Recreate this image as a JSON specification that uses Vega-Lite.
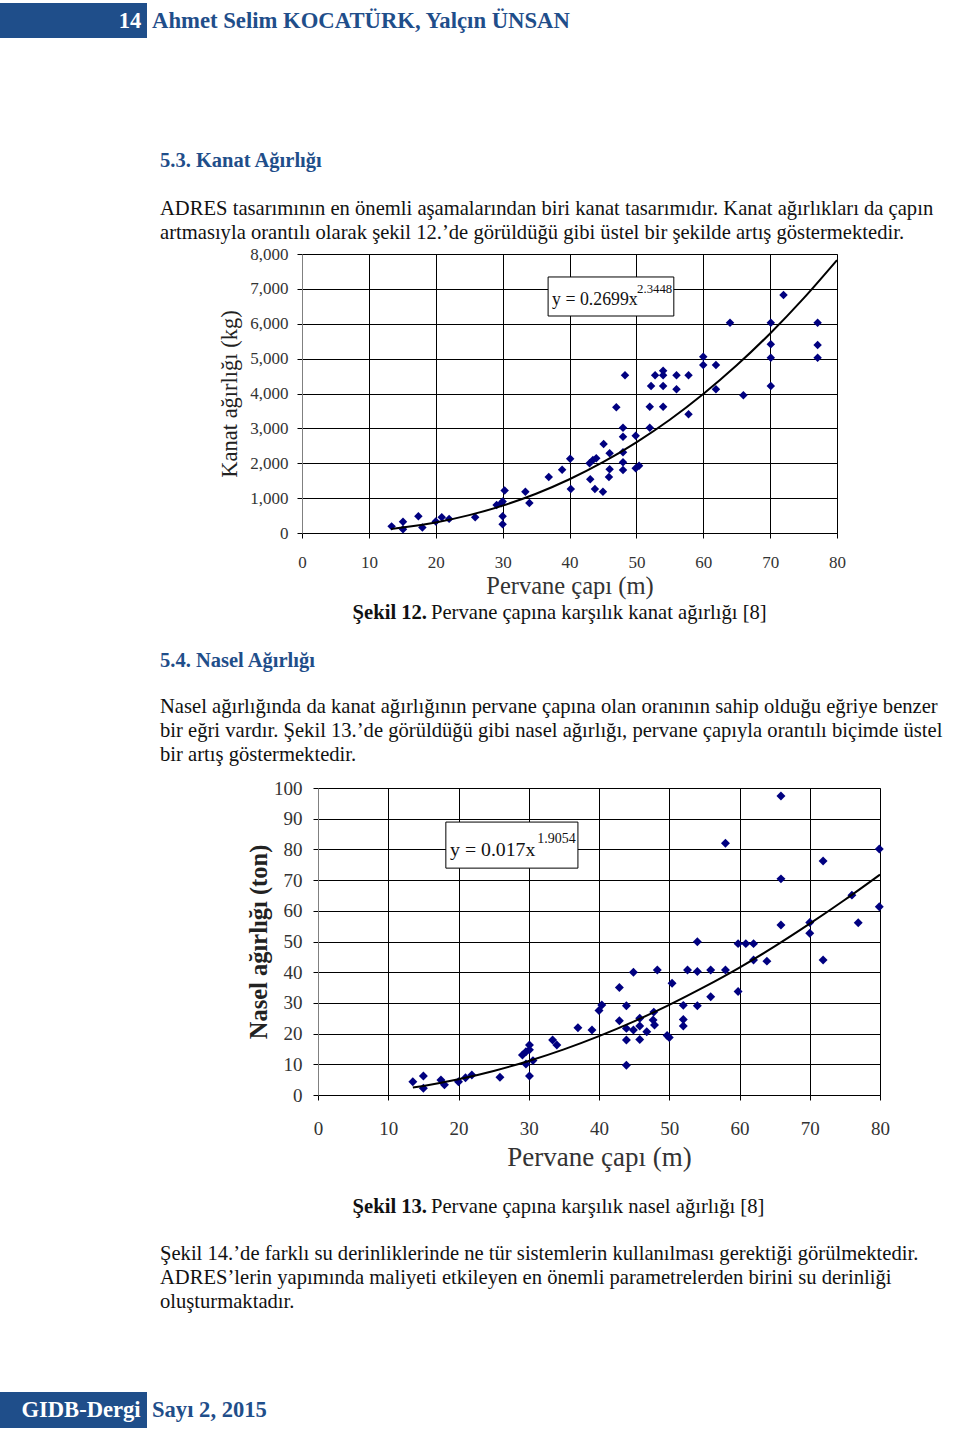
{
  "$schema": "https://vega.github.io/schema/vega-lite/v6.json",
  "padding": 0,
  "background": "white",
  "bounds": "flush",
  "spacing": 0,
  "config": {"view": {"stroke": null}},
  "datasets": {
    "kanat": [
      {"diameter": 13.4, "weight": 190}, {"diameter": 15.1, "weight": 320}, {"diameter": 15.1, "weight": 110}, {"diameter": 17.4, "weight": 480},
      {"diameter": 18.0, "weight": 160}, {"diameter": 20.0, "weight": 330}, {"diameter": 20.9, "weight": 450}, {"diameter": 22.0, "weight": 405},
      {"diameter": 25.9, "weight": 450}, {"diameter": 29.1, "weight": 800}, {"diameter": 29.8, "weight": 850}, {"diameter": 30.0, "weight": 900},
      {"diameter": 30.3, "weight": 1220}, {"diameter": 30.0, "weight": 480}, {"diameter": 30.0, "weight": 250}, {"diameter": 33.4, "weight": 1185},
      {"diameter": 34.0, "weight": 860}, {"diameter": 36.9, "weight": 1606}, {"diameter": 38.9, "weight": 1816}, {"diameter": 40.1, "weight": 2131},
      {"diameter": 40.2, "weight": 1262}, {"diameter": 43.0, "weight": 1998}, {"diameter": 43.5, "weight": 2093}, {"diameter": 44.0, "weight": 2141},
      {"diameter": 43.1, "weight": 1539}, {"diameter": 43.8, "weight": 1262}, {"diameter": 45.0, "weight": 1185}, {"diameter": 45.1, "weight": 2552},
      {"diameter": 46.0, "weight": 2285}, {"diameter": 46.0, "weight": 1826}, {"diameter": 45.9, "weight": 1606}, {"diameter": 47.0, "weight": 3604},
      {"diameter": 48.0, "weight": 3020}, {"diameter": 48.0, "weight": 2762}, {"diameter": 48.0, "weight": 2313}, {"diameter": 48.0, "weight": 2027},
      {"diameter": 48.0, "weight": 1806}, {"diameter": 48.3, "weight": 4521}, {"diameter": 49.9, "weight": 2790}, {"diameter": 49.9, "weight": 1855},
      {"diameter": 50.4, "weight": 1930}, {"diameter": 52.0, "weight": 3020}, {"diameter": 52.0, "weight": 3622}, {"diameter": 52.2, "weight": 4215},
      {"diameter": 52.8, "weight": 4521}, {"diameter": 54.0, "weight": 4654}, {"diameter": 54.0, "weight": 4521}, {"diameter": 54.0, "weight": 4215},
      {"diameter": 54.0, "weight": 3622}, {"diameter": 56.0, "weight": 4521}, {"diameter": 56.0, "weight": 4120}, {"diameter": 57.8, "weight": 4521},
      {"diameter": 57.8, "weight": 3403}, {"diameter": 60.0, "weight": 5056}, {"diameter": 60.0, "weight": 4817}, {"diameter": 61.9, "weight": 4817},
      {"diameter": 61.9, "weight": 4120}, {"diameter": 64.0, "weight": 6030}, {"diameter": 66.0, "weight": 3948}, {"diameter": 70.1, "weight": 6030},
      {"diameter": 70.1, "weight": 5410}, {"diameter": 70.1, "weight": 5027}, {"diameter": 70.1, "weight": 4215}, {"diameter": 72.0, "weight": 6824},
      {"diameter": 77.1, "weight": 6030}, {"diameter": 77.1, "weight": 5390}, {"diameter": 77.1, "weight": 5027}
    ],
    "kanatTrend": [
      {"diameter": 13.3, "weight": 117}, {"diameter": 15, "weight": 155}, {"diameter": 20, "weight": 303}, {"diameter": 25, "weight": 512},
      {"diameter": 30, "weight": 784}, {"diameter": 35, "weight": 1125}, {"diameter": 40, "weight": 1541}, {"diameter": 45, "weight": 2029},
      {"diameter": 50, "weight": 2599}, {"diameter": 55, "weight": 3247}, {"diameter": 60, "weight": 3985}, {"diameter": 65, "weight": 4808},
      {"diameter": 70, "weight": 5722}, {"diameter": 75, "weight": 6729}, {"diameter": 80, "weight": 7827}
    ],
    "kanatEq": [{"eq": "y = 0.2699x", "exp": "2.3448"}],
    "nasel": [
      {"diameter": 13.5, "mass": 4.3}, {"diameter": 15.0, "mass": 6.2}, {"diameter": 15.0, "mass": 2.2}, {"diameter": 17.5, "mass": 4.9},
      {"diameter": 18.0, "mass": 3.3}, {"diameter": 20.0, "mass": 4.3}, {"diameter": 21.0, "mass": 5.6}, {"diameter": 21.9, "mass": 6.5},
      {"diameter": 25.9, "mass": 5.8}, {"diameter": 29.1, "mass": 13.0}, {"diameter": 29.6, "mass": 14.1}, {"diameter": 30.1, "mass": 16.3},
      {"diameter": 30.1, "mass": 14.7}, {"diameter": 29.6, "mass": 10.1}, {"diameter": 30.6, "mass": 11.2}, {"diameter": 30.1, "mass": 6.2},
      {"diameter": 33.4, "mass": 17.9}, {"diameter": 34.0, "mass": 16.3}, {"diameter": 37.0, "mass": 21.9}, {"diameter": 39.0, "mass": 21.2},
      {"diameter": 40.0, "mass": 27.5}, {"diameter": 40.4, "mass": 29.3}, {"diameter": 42.9, "mass": 35.0}, {"diameter": 43.9, "mass": 29.1},
      {"diameter": 44.9, "mass": 40.0}, {"diameter": 42.9, "mass": 24.2}, {"diameter": 43.9, "mass": 21.7}, {"diameter": 43.9, "mass": 17.9},
      {"diameter": 43.9, "mass": 9.7}, {"diameter": 44.9, "mass": 21.2}, {"diameter": 45.8, "mass": 25.0}, {"diameter": 45.8, "mass": 22.5},
      {"diameter": 45.8, "mass": 18.1}, {"diameter": 46.8, "mass": 20.6}, {"diameter": 47.8, "mass": 27.0}, {"diameter": 47.7, "mass": 24.4},
      {"diameter": 47.9, "mass": 22.8}, {"diameter": 48.3, "mass": 40.7}, {"diameter": 50.0, "mass": 18.7}, {"diameter": 49.7, "mass": 19.4},
      {"diameter": 50.4, "mass": 36.4}, {"diameter": 52.0, "mass": 29.2}, {"diameter": 52.0, "mass": 24.6}, {"diameter": 52.0, "mass": 22.5},
      {"diameter": 52.6, "mass": 40.7}, {"diameter": 54.0, "mass": 40.2}, {"diameter": 54.0, "mass": 29.1}, {"diameter": 54.0, "mass": 49.9},
      {"diameter": 55.9, "mass": 40.7}, {"diameter": 55.9, "mass": 32.0}, {"diameter": 58.0, "mass": 40.7}, {"diameter": 59.8, "mass": 33.7},
      {"diameter": 59.8, "mass": 49.3}, {"diameter": 60.9, "mass": 49.3}, {"diameter": 62.0, "mass": 49.3}, {"diameter": 62.0, "mass": 44.0},
      {"diameter": 63.9, "mass": 43.6}, {"diameter": 71.9, "mass": 44.0}, {"diameter": 65.9, "mass": 97.4}, {"diameter": 58.0, "mass": 82.0},
      {"diameter": 79.9, "mass": 80.1}, {"diameter": 71.9, "mass": 76.2}, {"diameter": 65.9, "mass": 70.4}, {"diameter": 76.0, "mass": 65.1},
      {"diameter": 79.9, "mass": 61.3}, {"diameter": 76.9, "mass": 56.1}, {"diameter": 65.9, "mass": 55.4}, {"diameter": 70.0, "mass": 56.2},
      {"diameter": 70.0, "mass": 52.7}
    ],
    "naselTrend": [
      {"diameter": 13.5, "mass": 2.42}, {"diameter": 15, "mass": 2.96}, {"diameter": 20, "mass": 5.12}, {"diameter": 25, "mass": 7.83},
      {"diameter": 30, "mass": 11.09}, {"diameter": 35, "mass": 14.87}, {"diameter": 40, "mass": 19.19}, {"diameter": 45, "mass": 24.0},
      {"diameter": 50, "mass": 29.36}, {"diameter": 55, "mass": 35.2}, {"diameter": 60, "mass": 41.5}, {"diameter": 65, "mass": 48.4},
      {"diameter": 70, "mass": 55.8}, {"diameter": 75, "mass": 63.6}, {"diameter": 80, "mass": 71.8}
    ],
    "naselEq": [{"eq": "y = 0.017x", "exp": "1.9054"}]
  },
  "vconcat": [
    {"width": 960, "height": 3, "data": {"values": []}, "mark": {"type": "text"}},
    {
      "spacing": 0, "bounds": "flush",
      "hconcat": [
        {"width": 113, "height": 35, "view": {"fill": "#1F4E8A", "stroke": null}, "data": {"values": []}, "mark": {"type": "text"}},
        {"width": 34, "height": 35, "view": {"fill": "#1F4E8A", "stroke": null}, "data": {"values": [{"t": "14"}]},
         "mark": {"type": "text", "align": "center", "baseline": "middle", "font": "Liberation Serif", "fontWeight": "bold", "fontSize": 22.5, "color": "#ffffff"},
         "encoding": {"text": {"field": "t"}}},
        {"width": 10, "height": 35, "data": {"values": [{"t": "Ahmet Selim KOCATÜRK, Yalçın ÜNSAN"}]},
         "mark": {"type": "text", "align": "left", "baseline": "middle", "font": "Liberation Serif", "fontWeight": "bold", "fontSize": 22.7, "color": "#1F4E8A"},
         "encoding": {"text": {"field": "t"}}}
      ]
    },
    {"width": 960, "height": 137, "data": {"values": []}, "mark": {"type": "text"}},
    {"width": 320, "height": 42, "data": {"values": [{"t": "5.3. Kanat Ağırlığı"}]},
     "mark": {"type": "text", "align": "left", "baseline": "middle", "font": "Liberation Serif", "fontWeight": "bold", "fontSize": 20.5, "color": "#1F4E8A"},
     "encoding": {"text": {"field": "t"}}},
    {"width": 960, "height": 15, "data": {"values": []}, "mark": {"type": "text"}},
    {"width": 320, "height": 24, "data": {"values": [{"t": "ADRES tasarımının en önemli aşamalarından biri kanat tasarımıdır. Kanat ağırlıkları da çapın\nartmasıyla orantılı olarak şekil 12.’de görüldüğü gibi üstel bir şekilde artış göstermektedir."}]},
     "mark": {"type": "text", "align": "left", "baseline": "middle", "font": "Liberation Serif", "fontSize": 20.6, "lineHeight": 24, "lineBreak": "\n", "color": "#111111"},
     "encoding": {"text": {"field": "t"}}},
    {"width": 960, "height": 33, "data": {"values": []}, "mark": {"type": "text"}},
    {
      "spacing": 0, "bounds": "flush",
      "hconcat": [
        {"width": 302, "height": 279, "data": {"values": []}, "mark": {"type": "text"}},
        {
          "width": 535, "height": 279,
          "view": {"stroke": "#888888", "strokeWidth": 1},
          "layer": [
            {
              "data": {"name": "kanat"},
              "mark": {"type": "point", "shape": "diamond", "filled": true, "color": "#000080", "opacity": 1, "size": 72},
              "encoding": {
                "x": {"field": "diameter", "type": "quantitative", "scale": {"domain": [0, 80], "nice": false},
                  "axis": {"title": "Pervane çapı (m)", "values": [0, 10, 20, 30, 40, 50, 60, 70, 80], "format": "d", "grid": true, "gridColor": "#000000", "gridOpacity": 1, "gridWidth": 1,
                    "domainColor": "#000000", "tickColor": "#000000", "tickSize": 5, "labelPadding": 16, "labelFont": "Liberation Serif", "labelFontSize": 17, "labelColor": "#333333",
                    "labelFlush": false, "titleFont": "Liberation Serif", "titleFontSize": 24.5, "titleFontWeight": "normal", "titleColor": "#333333", "titlePadding": 4}},
                "y": {"field": "weight", "type": "quantitative", "scale": {"domain": [0, 8000], "nice": false},
                  "axis": {"title": "Kanat ağırlığı (kg)", "values": [0, 1000, 2000, 3000, 4000, 5000, 6000, 7000, 8000], "format": ",d", "grid": true, "gridColor": "#000000", "gridOpacity": 1, "gridWidth": 1,
                    "domainColor": "#808080", "tickColor": "#000000", "tickSize": 5, "labelPadding": 9, "labelFont": "Liberation Serif", "labelFontSize": 17, "labelColor": "#333333",
                    "labelFlush": false, "labelOverlap": false, "titleFont": "Liberation Serif", "titleFontSize": 22.5, "titleFontWeight": "normal", "titleColor": "#222222", "titlePadding": 8}}
              }
            },
            {
              "data": {"name": "kanatEq"},
              "mark": {"type": "rect", "fill": "#ffffff", "stroke": "#000000", "strokeWidth": 1},
              "encoding": {
                "x": {"datum": 36.8, "type": "quantitative", "axis": {"title": "Pervane çapı (m)", "values": [0, 10, 20, 30, 40, 50, 60, 70, 80], "format": "d"}},
                "x2": {"datum": 55.6},
                "y": {"datum": 7341, "type": "quantitative", "axis": {"title": "Kanat ağırlığı (kg)", "values": [0, 1000, 2000, 3000, 4000, 5000, 6000, 7000, 8000], "format": ",d"}},
                "y2": {"datum": 6222}
              }
            },
            {
              "data": {"name": "kanatEq"},
              "mark": {"type": "text", "align": "left", "baseline": "middle", "font": "Liberation Serif", "fontSize": 17.8, "color": "#111111"},
              "encoding": {
                "x": {"datum": 37.4, "type": "quantitative", "axis": {"title": "Pervane çapı (m)", "values": [0, 10, 20, 30, 40, 50, 60, 70, 80], "format": "d"}},
                "y": {"datum": 6681, "type": "quantitative", "axis": {"title": "Kanat ağırlığı (kg)", "values": [0, 1000, 2000, 3000, 4000, 5000, 6000, 7000, 8000], "format": ",d"}},
                "text": {"field": "eq"}
              }
            },
            {
              "data": {"name": "kanatEq"},
              "mark": {"type": "text", "align": "left", "baseline": "middle", "font": "Liberation Serif", "fontSize": 12.8, "color": "#111111"},
              "encoding": {
                "x": {"datum": 50.1, "type": "quantitative", "axis": {"title": "Pervane çapı (m)", "values": [0, 10, 20, 30, 40, 50, 60, 70, 80], "format": "d"}},
                "y": {"datum": 6990, "type": "quantitative", "axis": {"title": "Kanat ağırlığı (kg)", "values": [0, 1000, 2000, 3000, 4000, 5000, 6000, 7000, 8000], "format": ",d"}},
                "text": {"field": "exp"}
              }
            },
            {
              "data": {"name": "kanatTrend"},
              "mark": {"type": "line", "color": "#000000", "strokeWidth": 2, "interpolate": "monotone"},
              "encoding": {
                "x": {"field": "diameter", "type": "quantitative", "axis": {"title": "Pervane çapı (m)", "values": [0, 10, 20, 30, 40, 50, 60, 70, 80], "format": "d"}},
                "y": {"field": "weight", "type": "quantitative", "axis": {"title": "Kanat ağırlığı (kg)", "values": [0, 1000, 2000, 3000, 4000, 5000, 6000, 7000, 8000], "format": ",d"}}
              }
            }
          ]
        }
      ]
    },
    {"width": 960, "height": 343, "data": {"values": []}, "mark": {"type": "text"}},
    {
      "width": 854, "height": 32,
      "layer": [
        {"data": {"values": [{"t": "Şekil 12."}]},
         "mark": {"type": "text", "align": "right", "baseline": "middle", "font": "Liberation Serif", "fontWeight": "bold", "fontSize": 20.6, "color": "#111111"},
         "encoding": {"text": {"field": "t"}}},
        {"data": {"values": [{"t": "Pervane çapına karşılık kanat ağırlığı [8]"}]},
         "mark": {"type": "text", "align": "left", "baseline": "middle", "dx": 4, "font": "Liberation Serif", "fontSize": 20.6, "color": "#111111"},
         "encoding": {"text": {"field": "t"}}}
      ]
    },
    {"width": 960, "height": 16, "data": {"values": []}, "mark": {"type": "text"}},
    {"width": 320, "height": 32, "data": {"values": [{"t": "5.4. Nasel Ağırlığı"}]},
     "mark": {"type": "text", "align": "left", "baseline": "middle", "font": "Liberation Serif", "fontWeight": "bold", "fontSize": 20.5, "color": "#1F4E8A"},
     "encoding": {"text": {"field": "t"}}},
    {"width": 960, "height": 18, "data": {"values": []}, "mark": {"type": "text"}},
    {"width": 320, "height": 24, "data": {"values": [{"t": "Nasel ağırlığında da kanat ağırlığının pervane çapına olan oranının sahip olduğu eğriye benzer\nbir eğri vardır. Şekil 13.’de görüldüğü gibi nasel ağırlığı, pervane çapıyla orantılı biçimde üstel\nbir artış göstermektedir."}]},
     "mark": {"type": "text", "align": "left", "baseline": "middle", "font": "Liberation Serif", "fontSize": 20.6, "lineHeight": 24, "lineBreak": "\n", "color": "#111111"},
     "encoding": {"text": {"field": "t"}}},
    {"width": 960, "height": 69, "data": {"values": []}, "mark": {"type": "text"}},
    {
      "spacing": 0, "bounds": "flush",
      "hconcat": [
        {"width": 318, "height": 307, "data": {"values": []}, "mark": {"type": "text"}},
        {
          "width": 562, "height": 307,
          "view": {"stroke": "#888888", "strokeWidth": 1},
          "layer": [
            {
              "data": {"name": "nasel"},
              "mark": {"type": "point", "shape": "diamond", "filled": true, "color": "#000080", "opacity": 1, "size": 80},
              "encoding": {
                "x": {"field": "diameter", "type": "quantitative", "scale": {"domain": [0, 80], "nice": false},
                  "axis": {"title": "Pervane çapı (m)", "values": [0, 10, 20, 30, 40, 50, 60, 70, 80], "format": "d", "grid": true, "gridColor": "#000000", "gridOpacity": 1, "gridWidth": 1,
                    "domainColor": "#000000", "tickColor": "#000000", "tickSize": 5, "labelPadding": 19, "labelFont": "Liberation Serif", "labelFontSize": 19, "labelColor": "#333333",
                    "labelFlush": false, "titleFont": "Liberation Serif", "titleFontSize": 27, "titleFontWeight": "normal", "titleColor": "#333333", "titlePadding": 6}},
                "y": {"field": "mass", "type": "quantitative", "scale": {"domain": [0, 100], "nice": false},
                  "axis": {"title": "Nasel ağırlığı (ton)", "values": [0, 10, 20, 30, 40, 50, 60, 70, 80, 90, 100], "format": "d", "grid": true, "gridColor": "#000000", "gridOpacity": 1, "gridWidth": 1,
                    "domainColor": "#808080", "tickColor": "#000000", "tickSize": 5, "labelPadding": 11, "labelFont": "Liberation Serif", "labelFontSize": 19, "labelColor": "#333333",
                    "labelFlush": false, "labelOverlap": false, "titleFont": "Liberation Serif", "titleFontSize": 24.5, "titleFontWeight": "bold", "titleColor": "#222222", "titlePadding": 2}}
              }
            },
            {
              "data": {"name": "naselEq"},
              "mark": {"type": "rect", "fill": "#ffffff", "stroke": "#000000", "strokeWidth": 1},
              "encoding": {
                "x": {"datum": 18.2, "type": "quantitative", "axis": {"title": "Pervane çapı (m)", "values": [0, 10, 20, 30, 40, 50, 60, 70, 80], "format": "d"}},
                "x2": {"datum": 37.0},
                "y": {"datum": 88.9, "type": "quantitative", "axis": {"title": "Nasel ağırlığı (ton)", "values": [0, 10, 20, 30, 40, 50, 60, 70, 80, 90, 100], "format": "d"}},
                "y2": {"datum": 73.9}
              }
            },
            {
              "data": {"name": "naselEq"},
              "mark": {"type": "text", "align": "left", "baseline": "middle", "font": "Liberation Serif", "fontSize": 19.8, "color": "#111111"},
              "encoding": {
                "x": {"datum": 18.8, "type": "quantitative", "axis": {"title": "Pervane çapı (m)", "values": [0, 10, 20, 30, 40, 50, 60, 70, 80], "format": "d"}},
                "y": {"datum": 79.8, "type": "quantitative", "axis": {"title": "Nasel ağırlığı (ton)", "values": [0, 10, 20, 30, 40, 50, 60, 70, 80, 90, 100], "format": "d"}},
                "text": {"field": "eq"}
              }
            },
            {
              "data": {"name": "naselEq"},
              "mark": {"type": "text", "align": "left", "baseline": "middle", "font": "Liberation Serif", "fontSize": 14, "color": "#111111"},
              "encoding": {
                "x": {"datum": 31.2, "type": "quantitative", "axis": {"title": "Pervane çapı (m)", "values": [0, 10, 20, 30, 40, 50, 60, 70, 80], "format": "d"}},
                "y": {"datum": 83.4, "type": "quantitative", "axis": {"title": "Nasel ağırlığı (ton)", "values": [0, 10, 20, 30, 40, 50, 60, 70, 80, 90, 100], "format": "d"}},
                "text": {"field": "exp"}
              }
            },
            {
              "data": {"name": "naselTrend"},
              "mark": {"type": "line", "color": "#000000", "strokeWidth": 2, "interpolate": "monotone"},
              "encoding": {
                "x": {"field": "diameter", "type": "quantitative", "axis": {"title": "Pervane çapı (m)", "values": [0, 10, 20, 30, 40, 50, 60, 70, 80], "format": "d"}},
                "y": {"field": "mass", "type": "quantitative", "axis": {"title": "Nasel ağırlığı (ton)", "values": [0, 10, 20, 30, 40, 50, 60, 70, 80, 90, 100], "format": "d"}}
              }
            }
          ]
        }
      ]
    },
    {"width": 960, "height": 403, "data": {"values": []}, "mark": {"type": "text"}},
    {
      "width": 854, "height": 32,
      "layer": [
        {"data": {"values": [{"t": "Şekil 13."}]},
         "mark": {"type": "text", "align": "right", "baseline": "middle", "font": "Liberation Serif", "fontWeight": "bold", "fontSize": 20.6, "color": "#111111"},
         "encoding": {"text": {"field": "t"}}},
        {"data": {"values": [{"t": "Pervane çapına karşılık nasel ağırlığı [8]"}]},
         "mark": {"type": "text", "align": "left", "baseline": "middle", "dx": 4, "font": "Liberation Serif", "fontSize": 20.6, "color": "#111111"},
         "encoding": {"text": {"field": "t"}}}
      ]
    },
    {"width": 960, "height": 19, "data": {"values": []}, "mark": {"type": "text"}},
    {"width": 320, "height": 24, "data": {"values": [{"t": "Şekil 14.’de farklı su derinliklerinde ne tür sistemlerin kullanılması gerektiği görülmektedir.\nADRES’lerin yapımında maliyeti etkileyen en önemli parametrelerden birini su derinliği\noluşturmaktadır."}]},
     "mark": {"type": "text", "align": "left", "baseline": "middle", "font": "Liberation Serif", "fontSize": 20.6, "lineHeight": 24, "lineBreak": "\n", "color": "#111111"},
     "encoding": {"text": {"field": "t"}}},
    {"width": 960, "height": 126, "data": {"values": []}, "mark": {"type": "text"}},
    {
      "spacing": 0, "bounds": "flush",
      "hconcat": [
        {"width": 15, "height": 36, "view": {"fill": "#1F4E8A", "stroke": null}, "data": {"values": []}, "mark": {"type": "text"}},
        {"width": 132, "height": 36, "view": {"fill": "#1F4E8A", "stroke": null}, "data": {"values": [{"t": "GIDB-Dergi"}]},
         "mark": {"type": "text", "align": "center", "baseline": "middle", "font": "Liberation Serif", "fontWeight": "bold", "fontSize": 22.6, "color": "#ffffff"},
         "encoding": {"text": {"field": "t"}}},
        {"width": 10, "height": 36, "data": {"values": [{"t": "Sayı 2, 2015"}]},
         "mark": {"type": "text", "align": "left", "baseline": "middle", "font": "Liberation Serif", "fontWeight": "bold", "fontSize": 22.6, "color": "#1F4E8A"},
         "encoding": {"text": {"field": "t"}}}
      ]
    },
    {"width": 960, "height": 38, "data": {"values": []}, "mark": {"type": "text"}}
  ]
}
